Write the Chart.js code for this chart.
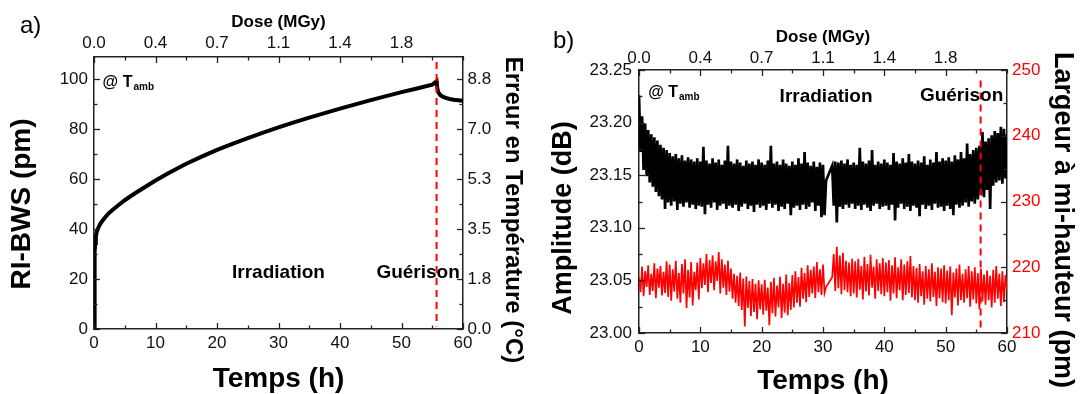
<!DOCTYPE html>
<html><head><meta charset="utf-8">
<script src="https://cdn.jsdelivr.net/npm/chart.js@4.4.0/dist/chart.umd.min.js"></script>
<style>
html,body{margin:0;padding:0;background:#fff;width:1083px;height:394px;overflow:hidden}
#wa{position:absolute;left:0;top:0;width:545px;height:394px}
#wb{position:absolute;left:545px;top:0;width:538px;height:394px}
</style></head><body>
<div id="wa"><canvas id="ca" width="545" height="394"></canvas></div>
<div id="wb"><canvas id="cb" width="538" height="394"></canvas></div>
<script>
const FONT = "'Liberation Sans', Arial, Helvetica, sans-serif";

// ---------- panel a) data ----------
const timeA = [0, 0.05, 0.1, 0.15, 0.2, 0.3, 0.45, 0.65, 0.9, 1.2, 1.5, 2, 2.5, 3, 4, 5, 6, 7, 8.5, 10, 12, 15, 17.5, 20, 22.5, 25, 27.5, 30, 32.5, 35, 37.5, 40, 42.5, 45, 47.5, 50, 52.5, 55, 55.7, 55.75, 55.85, 56, 56.3, 56.7, 57.2, 57.8, 58.5, 59.2, 60];
const rbws = [0, 12, 25, 31, 34.5, 37, 39, 40.3, 41.6, 42.8, 43.8, 45.3, 46.6, 47.7, 49.7, 51.6, 53.3, 54.9, 57.2, 59.5, 62.3, 66.2, 69.1, 71.8, 74.2, 76.5, 78.7, 80.8, 82.8, 84.7, 86.5, 88.3, 90.0, 91.7, 93.3, 94.9, 96.4, 97.9, 99.3, 97.8, 96.0, 94.8, 93.8, 93.1, 92.6, 92.2, 91.9, 91.7, 91.5];
const doseTickLabels = ['0.0', '0.4', '0.7', '1.1', '1.4', '1.8'];
const tempTickLabels = ['0.0', '1.8', '3.5', '5.3', '7.0', '8.8'];
const guerisonTime = 55.7;
const markerRangeA = [107, 1];

// ---------- panel b) data ----------
const sampleStepB = 0.25; // h between samples, first sample at 0 h
const amplitude = [
23.226, 23.172, 23.206, 23.155, 23.199, 23.149, 23.193, 23.143, 23.189, 23.139, 23.186, 23.134, 23.183, 23.130, 23.179, 23.127, 23.176, 23.118, 23.174, 23.124,
23.171, 23.121, 23.168, 23.125, 23.170, 23.117, 23.166, 23.123, 23.169, 23.120, 23.164, 23.124, 23.167, 23.119, 23.165, 23.122, 23.163, 23.118, 23.166, 23.121,
23.163, 23.120, 23.177, 23.113, 23.164, 23.122, 23.161, 23.119, 23.166, 23.124, 23.162, 23.117, 23.165, 23.121, 23.160, 23.123, 23.164, 23.118, 23.178, 23.121,
23.163, 23.119, 23.161, 23.122, 23.165, 23.116, 23.162, 23.120, 23.159, 23.123, 23.164, 23.118, 23.161, 23.121, 23.163, 23.115, 23.160, 23.122, 23.165, 23.119,
23.162, 23.121, 23.160, 23.117, 23.164, 23.123, 23.178, 23.119, 23.161, 23.122, 23.163, 23.116, 23.160, 23.120, 23.165, 23.118, 23.161, 23.123, 23.159, 23.112,
23.163, 23.119, 23.160, 23.121, 23.166, 23.117, 23.161, 23.122, 23.172, 23.118, 23.162, 23.120, 23.159, 23.124, 23.163, 23.116, 23.158, 23.121, 23.162, 23.110,
23.160, 23.112, 23.145, null, null, null, 23.159, 23.121, 23.163, 23.105, 23.162, 23.120, 23.164, 23.118, 23.161, 23.122, 23.165, 23.119, 23.160, 23.123,
23.162, 23.118, 23.160, 23.121, 23.176, 23.117, 23.163, 23.122, 23.161, 23.119, 23.164, 23.116, 23.174, 23.121, 23.160, 23.123, 23.163, 23.118, 23.161, 23.120,
23.165, 23.121, 23.162, 23.117, 23.160, 23.122, 23.171, 23.107, 23.163, 23.119, 23.161, 23.123, 23.166, 23.118, 23.162, 23.120, 23.170, 23.116, 23.163, 23.121,
23.161, 23.119, 23.164, 23.111, 23.162, 23.122, 23.168, 23.118, 23.160, 23.121, 23.165, 23.117, 23.162, 23.123, 23.172, 23.119, 23.163, 23.120, 23.166, 23.116,
23.164, 23.121, 23.167, 23.118, 23.163, 23.112, 23.169, 23.122, 23.165, 23.119, 23.172, 23.121, 23.166, 23.124, 23.180, 23.120, 23.170, 23.125, 23.174, 23.123,
23.176, 23.127, 23.178, 23.131, 23.191, 23.129, 23.182, 23.136, 23.185, 23.118, 23.188, 23.140, 23.192, 23.143, 23.190, 23.145, 23.196, 23.142, 23.194, 23.147, 23.189
];
const fwhm = [
218.5, 216.2, 220.1, 215.6, 219.4, 217.0, 220.3, 215.8, 219.0, 216.4, 220.6, 215.3, 219.8, 216.9, 220.2, 215.7, 219.3, 216.1, 220.9, 215.5,
220.4, 214.9, 219.7, 216.3, 221.0, 215.2, 219.1, 214.6, 220.5, 216.0, 221.2, 213.8, 219.6, 215.4, 220.8, 214.2, 219.3, 216.5, 220.7, 215.1,
221.4, 216.8, 220.6, 217.3, 222.0, 216.2, 221.1, 217.6, 221.8, 216.5, 220.9, 217.9, 222.3, 216.0, 221.2, 216.9, 220.4, 215.8, 221.0, 216.3,
219.8, 215.2, 219.0, 214.6, 218.7, 214.1, 219.2, 213.5, 218.3, 211.0, 218.6, 213.8, 217.9, 212.6, 218.2, 213.2, 217.5, 212.1, 218.0, 213.6,
217.4, 212.8, 218.1, 213.4, 216.9, 211.2, 217.8, 213.0, 218.4, 212.5, 217.2, 213.9, 218.6, 212.3, 217.5, 213.1, 218.9, 212.7, 217.6, 213.5,
218.8, 213.9, 219.4, 214.6, 218.5, 214.0, 219.9, 215.2, 219.1, 214.7, 220.3, 215.5, 219.6, 216.0, 220.1, 215.3, 220.8, 216.2, 219.7, 215.8,
220.4, 216.1, 217.0, null, null, null, 218.5, 222.0, 216.4, 223.1, 216.8, 221.8, 215.9, 222.2, 216.5, 221.0, 216.2, 220.7, 215.6, 221.3,
216.0, 220.9, 215.4, 221.3, 216.6, 220.2, 215.1, 221.6, 216.3, 220.5, 215.7, 221.9, 216.9, 220.1, 215.2, 221.2, 216.4, 220.6, 215.9, 221.4,
215.6, 220.7, 216.2, 221.1, 214.9, 220.3, 216.0, 221.5, 215.3, 220.0, 216.5, 221.2, 215.0, 220.4, 215.8, 220.9, 216.1, 221.7, 215.4, 220.2,
215.0, 219.9, 214.6, 220.5, 215.6, 219.4, 214.3, 220.2, 215.2, 219.7, 214.8, 220.6, 215.5, 219.3, 214.1, 220.0, 215.3, 219.8, 214.7, 220.3,
214.5, 219.5, 215.0, 220.1, 212.7, 219.2, 215.4, 219.8, 214.2, 220.4, 215.0, 219.0, 214.6, 219.7, 215.3, 220.2, 214.0, 219.4, 215.1, 220.0,
214.5, 219.1, 213.6, 219.8, 214.8, 218.9, 214.3, 219.5, 215.0, 218.7, 213.9, 219.6, 214.6, 220.2, 215.2, 219.0, 214.1, 219.4, 214.7, 218.8, 216.5
];
const markerRangeB = [23.240, 23.0];

// ---------- plugins ----------
const inwardTicks = {
  id: 'inwardTicks',
  afterDraw(chart) {
    const ctx = chart.ctx, a = chart.chartArea;
    ctx.save();
    ctx.strokeStyle = '#222';
    ctx.lineWidth = 1.3;
    Object.values(chart.scales).forEach(s => {
      s.ticks.forEach(t => {
        const major = t.label !== '' && t.label !== undefined && t.label !== null;
        const len = major ? 6 : 3.5;
        const p = Math.round(s.getPixelForValue(t.value)) + 0.5;
        ctx.beginPath();
        if (s.position === 'left') { ctx.moveTo(a.left, p); ctx.lineTo(a.left + len, p); }
        else if (s.position === 'right') { ctx.moveTo(a.right, p); ctx.lineTo(a.right - len, p); }
        else if (s.position === 'bottom') { ctx.moveTo(p, a.bottom); ctx.lineTo(p, a.bottom - len); }
        else { ctx.moveTo(p, a.top); ctx.lineTo(p, a.top + len); }
        ctx.stroke();
      });
    });
    ctx.restore();
  }
};

const sideTitles = {
  id: 'sideTitles',
  afterDraw(chart, args, opts) {
    const ctx = chart.ctx;
    (opts.items || []).forEach(it => {
      ctx.save();
      ctx.translate(it.x, it.y);
      ctx.rotate(it.rot || 0);
      ctx.font = (it.weight || 'bold') + ' ' + it.size + 'px ' + FONT;
      ctx.fillStyle = '#000';
      ctx.textAlign = it.align || 'center';
      ctx.textBaseline = it.baseline || 'middle';
      ctx.fillText(it.text, 0, 0);
      ctx.restore();
    });
  }
};

const notes = {
  id: 'notes',
  afterDatasetsDraw(chart, args, opts) {
    const ctx = chart.ctx, xs = chart.scales.x, ys = chart.scales.y;
    (opts.items || []).forEach(n => {
      const px = xs.getPixelForValue(n.x), py = ys.getPixelForValue(n.y);
      ctx.save();
      ctx.fillStyle = '#000';
      ctx.font = 'bold ' + n.size + 'px ' + FONT;
      ctx.textAlign = n.align;
      ctx.textBaseline = 'alphabetic';
      ctx.fillText(n.text, px, py);
      if (n.sub) {
        const w = ctx.measureText(n.text).width;
        ctx.font = 'bold ' + n.subSize + 'px ' + FONT;
        ctx.textAlign = 'left';
        ctx.fillText(n.sub, px + w + 1, py + 3);
      }
      ctx.restore();
    });
  }
};

const tickFont = { family: FONT, size: 17 };
const noGrid = { display: false, drawTicks: false };
const frame = { display: true, color: '#222', width: 1.5 };

function xAxis(height, pad, titlePad) {
  return {
    type: 'linear', position: 'bottom', min: 0, max: 60,
    afterFit: s => { s.height = height; },
    grid: noGrid, border: frame,
    ticks: { stepSize: 5, autoSkip: false, includeBounds: false, maxRotation: 0, padding: pad, color: '#111', font: tickFont,
      callback: v => (v % 10 === 0 ? String(v) : '') },
    title: { display: true, text: 'Temps (h)', color: '#000', font: { family: FONT, size: 28, weight: 'bold', lineHeight: 1 }, padding: { top: 0, bottom: titlePad } }
  };
}
function doseAxis(height, pad, titlePad) {
  return {
    type: 'linear', position: 'top', min: 0, max: 60,
    afterFit: s => { s.height = height; },
    grid: noGrid, border: frame,
    ticks: { stepSize: 5, autoSkip: false, includeBounds: false, maxRotation: 0, padding: pad, color: '#111', font: tickFont,
      callback: v => (v % 10 === 0 && doseTickLabels[v / 10] !== undefined ? doseTickLabels[v / 10] : '') },
    title: { display: true, text: 'Dose (MGy)', color: '#000', font: { family: FONT, size: 17, weight: 'bold', lineHeight: 1 }, padding: { top: titlePad, bottom: 0 } }
  };
}

const common = {
  responsive: false, maintainAspectRatio: false, animation: false,
  layout: { padding: 0 },
  elements: { point: { radius: 0 }, line: { tension: 0 } },
};

// ---------- chart a ----------
new Chart(document.getElementById('ca'), {
  type: 'line',
  data: { datasets: [
    { label: 'Guérison', data: markerRangeA.map(v => ({ x: guerisonTime, y: v })), borderColor: '#ff0000', borderWidth: 2, borderDash: [7, 5], pointRadius: 0, xAxisID: 'x', yAxisID: 'y' },
    { label: 'RI-BWS', data: timeA.map((t, i) => ({ x: t, y: rbws[i] })), borderColor: '#000', borderWidth: 4, pointRadius: 0, xAxisID: 'x', yAxisID: 'y' }
  ] },
  options: Object.assign({}, common, {
    plugins: {
      legend: { display: false }, tooltip: { enabled: false },
      sideTitles: { items: [
        { text: 'RI-BWS (pm)', x: 22, y: 204, rot: -Math.PI / 2, size: 28 },
        { text: 'Erreur en Température (°C)', x: 513, y: 210, rot: Math.PI / 2, size: 24 },
        { text: 'a)', x: 20, y: 33, size: 24, weight: 'normal', align: 'left', baseline: 'alphabetic' }
      ] },
      notes: { items: [
        { text: '@ T', sub: 'amb', x: 1.4, y: 96.8, size: 16, subSize: 10, align: 'left' },
        { text: 'Irradiation', x: 30, y: 20.5, size: 19, align: 'center' },
        { text: 'Guérison', x: 52.7, y: 20.5, size: 19, align: 'center' }
      ] }
    },
    scales: {
      x: xAxis(65, 4, 1),
      xTop: doseAxis(57, 3, 13.5),
      y: {
        type: 'linear', position: 'left', min: 0, max: 109,
        afterFit: s => { s.width = 94; },
        grid: noGrid, border: frame,
        ticks: { stepSize: 10, autoSkip: false, includeBounds: false, padding: 6, color: '#111', font: tickFont,
          callback: v => (v % 20 === 0 ? String(v) : '') }
      },
      yR: {
        type: 'linear', position: 'right', min: 0, max: 109,
        afterFit: s => { s.width = 82; },
        grid: noGrid, border: frame,
        ticks: { stepSize: 10, autoSkip: false, includeBounds: false, padding: 4.5, color: '#111', font: tickFont,
          callback: v => (v % 20 === 0 && tempTickLabels[v / 20] !== undefined ? tempTickLabels[v / 20] : '') }
      }
    }
  }),
  plugins: [inwardTicks, sideTitles, notes]
});

// ---------- chart b ----------
new Chart(document.getElementById('cb'), {
  type: 'line',
  data: { datasets: [
    { label: 'Guérison', data: markerRangeB.map(v => ({ x: guerisonTime, y: v })), borderColor: '#ff0000', borderWidth: 2, borderDash: [7, 5], pointRadius: 0, xAxisID: 'x', yAxisID: 'y' },
    { label: 'Amplitude', data: amplitude.map((v, i) => ({ x: i * sampleStepB, y: v })), borderColor: '#000', borderWidth: 2.7, pointRadius: 0, spanGaps: true, xAxisID: 'x', yAxisID: 'y' },
    { label: 'Largeur à mi-hauteur', data: fwhm.map((v, i) => ({ x: i * sampleStepB, y: v })), borderColor: '#ff0000', borderWidth: 1.7, pointRadius: 0, spanGaps: true, xAxisID: 'x', yAxisID: 'yR' }
  ] },
  options: Object.assign({}, common, {
    plugins: {
      legend: { display: false }, tooltip: { enabled: false },
      sideTitles: { items: [
        { text: 'Amplitude (dB)', x: 19, y: 218, rot: -Math.PI / 2, size: 27 },
        { text: 'Largeur à mi-hauteur (pm)', x: 517, y: 220, rot: Math.PI / 2, size: 27 },
        { text: 'b)', x: 8, y: 48, size: 24, weight: 'normal', align: 'left', baseline: 'alphabetic' }
      ] },
      notes: { items: [
        { text: '@ T', sub: 'amb', x: 1.5, y: 23.224, size: 16, subSize: 10, align: 'left' },
        { text: 'Irradiation', x: 30.5, y: 23.220, size: 19, align: 'center' },
        { text: 'Guérison', x: 52.6, y: 23.2205, size: 19, align: 'center' }
      ] }
    },
    scales: {
      x: xAxis(61, 4, -1),
      xTop: doseAxis(70, 1.5, 29),
      y: {
        type: 'linear', position: 'left', min: 23.0, max: 23.25,
        afterFit: s => { s.width = 94; },
        grid: noGrid, border: frame,
        ticks: { stepSize: 0.025, autoSkip: false, includeBounds: false, padding: 7, color: '#111', font: tickFont,
          callback: v => (Math.round(v * 1000) % 50 === 0 ? Number(v).toFixed(2) : '') }
      },
      yR: {
        type: 'linear', position: 'right', min: 210, max: 250,
        afterFit: s => { s.width = 76; },
        grid: noGrid, border: frame,
        ticks: { stepSize: 5, autoSkip: false, includeBounds: false, padding: 5, color: '#ff0000', font: tickFont,
          callback: v => (v % 10 === 0 ? String(v) : '') }
      }
    }
  }),
  plugins: [inwardTicks, sideTitles, notes]
});
</script>
</body></html>
